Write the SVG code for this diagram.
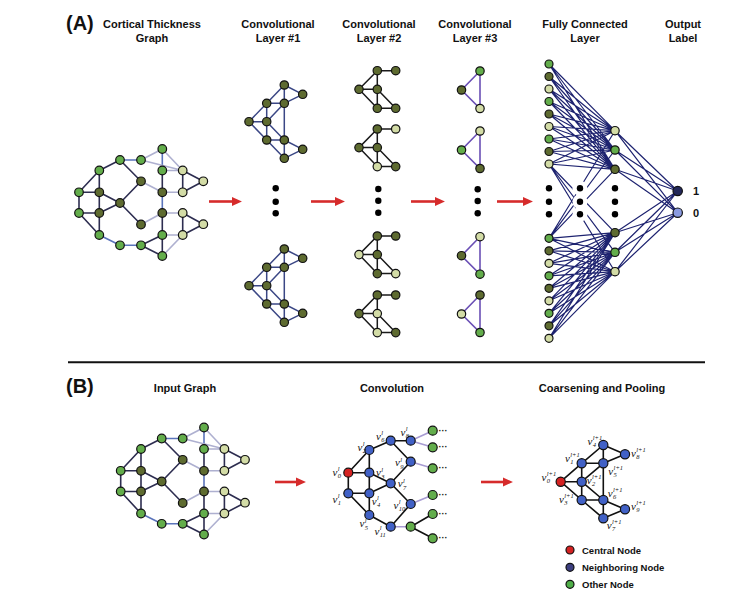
<svg xmlns="http://www.w3.org/2000/svg" xmlns:xlink="http://www.w3.org/1999/xlink" width="750" height="596" viewBox="0 0 750 596">
<style>
text{font-family:"Liberation Sans",Arial,sans-serif;fill:#111}
.h{font-size:11px;font-weight:bold;text-anchor:middle}
.big{font-size:20px;font-weight:bold}
circle{stroke:#111;stroke-width:1.2}
.g{fill:#63ad4b}.d{fill:#5e6b30}.l{fill:#d3dca6}
.b{fill:#4161c6}.r{fill:#d42222}
.dot{fill:#000;stroke:none}
.halo{fill:#fff;stroke:none}
.ed{stroke:#2d2d50;stroke-width:1.6;fill:none}
.eb{stroke:#5b74bb;stroke-width:1.6;fill:none}
.el{stroke:#aeb0d0;stroke-width:1.6;fill:none}
.c1{stroke:#3b4785;stroke-width:1.5;fill:none}
.c2{stroke:#1a1a1a;stroke-width:1.5;fill:none}
.c3{stroke:#6a4fb5;stroke-width:1.6;fill:none}
.fc{stroke:#1e2370;stroke-width:1.2;fill:none}
.bk{stroke:#111;stroke-width:1.6;fill:none}
.pu{stroke:#a79bd2;stroke-width:1.6;fill:none}
.arr{stroke:#d62b2b;stroke-width:2.6;marker-end:url(#ah)}
.v{font-family:"Liberation Serif","Times New Roman",serif;font-style:italic;font-size:11px}
.s{font-size:6.5px}
.leg{font-size:9.5px;font-weight:bold}
.ell{font-size:9px;font-weight:bold}
</style>
<defs>
<marker id="ah" viewBox="0 0 10 9" refX="6" refY="4.5" markerWidth="4" markerHeight="3.6" orient="auto"><path d="M0,0L10,4.5L0,9z" fill="#d62b2b"/></marker>
<path id="c2e" class="c2" d="M377.3,0L395.7,0M377.3,0L359,18.6M377.3,0L377.3,37.6M359,18.6L377.3,18.6M359,18.6L377.3,37.6M377.3,37.6L395.7,37.6M377.3,18.6L395.7,37.6"/>
<path id="c3e" class="c3" d="M480,0L461.5,19L480,37.5Z"/>
</defs>
<rect width="750" height="596" fill="#fff"/>

<!-- Headers A -->
<g id="headers-a">
<text class="big" x="66" y="30">(A)</text>
<text class="h" x="152" y="28">Cortical Thickness</text><text class="h" x="152" y="42">Graph</text>
<text class="h" x="278" y="28">Convolutional</text><text class="h" x="278" y="42">Layer #1</text>
<text class="h" x="379" y="28">Convolutional</text><text class="h" x="379" y="42">Layer #2</text>
<text class="h" x="475" y="28">Convolutional</text><text class="h" x="475" y="42">Layer #3</text>
<text class="h" x="585" y="28">Fully Connected</text><text class="h" x="585" y="42">Layer</text>
<text class="h" x="683" y="28">Output</text><text class="h" x="683" y="42">Label</text>
</g>

<!-- Cortical thickness graph -->
<g id="cortical-graph">
<g id="cortical-edges">
<path class="ed" d="M120,160L99.3,170.5M120,160L141,181.3M99.3,170.5L79,192.3M99.3,170.5L99.3,192.3M162.3,170.5L162.3,192.3M182.7,170.5L182.7,192.3M182.7,170.5L203.3,181.3M182.7,192.3L203.3,181.3M141,181.3L120,203M79,192.3L99.3,192.3M79,192.3L79,213M99.3,192.3L120,203M99.3,192.3L99.3,213M79,213L99.3,213M99.3,213L120,203M79,213L99.3,235M99.3,213L99.3,235M120,203L141,224.5M162.3,213L162.3,235M182.7,213L182.7,235M182.7,213L203.3,224.2M182.7,235L203.3,224.2M141,245.3L162.3,235M141,245.3L162.3,256M162.3,235L162.3,256"/>
<path class="eb" d="M120,160L141,160M162.3,149L162.3,170.5M162.3,192.3L162.3,213M99.3,235L120,245.3M120,245.3L141,245.3"/>
<path class="el" d="M141,160L162.3,149M141,160L182.7,170.5M162.3,149L182.7,170.5M162.3,170.5L182.7,170.5M141,181.3L162.3,192.3M162.3,192.3L182.7,192.3M162.3,213L182.7,213M162.3,213L141,224.5M162.3,235L182.7,235M162.3,256L182.7,235"/>
</g>
<g id="cortical-nodes">
<circle class="g" cx="162.3" cy="149" r="4.3"/>
<circle class="g" cx="120" cy="160" r="4.3"/>
<circle class="g" cx="141" cy="160" r="4.3"/>
<circle class="g" cx="99.3" cy="170.5" r="4.3"/>
<circle class="g" cx="162.3" cy="170.5" r="4.3"/>
<circle class="l" cx="182.7" cy="170.5" r="4.3"/>
<circle class="l" cx="203.3" cy="181.3" r="4.3"/>
<circle class="d" cx="141" cy="181.3" r="4.3"/>
<circle class="g" cx="79" cy="192.3" r="4.3"/>
<circle class="d" cx="99.3" cy="192.3" r="4.3"/>
<circle class="d" cx="162.3" cy="192.3" r="4.3"/>
<circle class="l" cx="182.7" cy="192.3" r="4.3"/>
<circle class="d" cx="120" cy="203" r="4.3"/>
<circle class="g" cx="79" cy="213" r="4.3"/>
<circle class="d" cx="99.3" cy="213" r="4.3"/>
<circle class="d" cx="162.3" cy="213" r="4.3"/>
<circle class="l" cx="182.7" cy="213" r="4.3"/>
<circle class="l" cx="203.3" cy="224.2" r="4.3"/>
<circle class="d" cx="141" cy="224.5" r="4.3"/>
<circle class="g" cx="99.3" cy="235" r="4.3"/>
<circle class="g" cx="162.3" cy="235" r="4.3"/>
<circle class="l" cx="182.7" cy="235" r="4.3"/>
<circle class="g" cx="120" cy="245.3" r="4.3"/>
<circle class="g" cx="141" cy="245.3" r="4.3"/>
<circle class="g" cx="162.3" cy="256" r="4.3"/>
</g>
</g>

<!-- Convolutional layer 1 -->
<g id="conv1-graph-top">
<path class="c1" d="M284.3,85L302.7,94.3M284.3,85L284.3,103.3M284.3,85L266.7,103.3M266.7,103.3L284.3,103.3M302.7,94.3L284.3,103.3M266.7,103.3L266.7,121.7M266.7,103.3L249,121.7M284.3,103.3L266.7,121.7M284.3,103.3L284.3,140M249,121.7L266.7,121.7M249,121.7L266.7,140M266.7,121.7L266.7,140M266.7,121.7L284.3,140M266.7,140L284.3,140M266.7,140L284.3,158.3M284.3,140L284.3,158.3M284.3,140L302.7,149.3M302.7,149.3L284.3,158.3"/>
<circle class="d" cx="284.3" cy="85" r="4.2"/>
<circle class="d" cx="302.7" cy="94.3" r="4.2"/>
<circle class="d" cx="266.7" cy="103.3" r="4.2"/>
<circle class="d" cx="284.3" cy="103.3" r="4.2"/>
<circle class="d" cx="249" cy="121.7" r="4.2"/>
<circle class="d" cx="266.7" cy="121.7" r="4.2"/>
<circle class="d" cx="266.7" cy="140" r="4.2"/>
<circle class="d" cx="284.3" cy="140" r="4.2"/>
<circle class="d" cx="302.7" cy="149.3" r="4.2"/>
<circle class="d" cx="284.3" cy="158.3" r="4.2"/>
</g>
<use id="conv1-graph-bottom" href="#conv1-graph-top" xlink:href="#conv1-graph-top" transform="translate(0,164)"/>
<g id="conv1-dots"><circle class="dot" cx="275.7" cy="188.3" r="3.2"/><circle class="dot" cx="275.7" cy="201.7" r="3.2"/><circle class="dot" cx="275.7" cy="213.3" r="3.2"/></g>

<!-- Convolutional layer 2 -->
<g id="conv2-graph1">
<use href="#c2e" xlink:href="#c2e" y="70.7"/>
<circle class="d" cx="377.3" cy="70.7" r="4.2"/><circle class="d" cx="395.7" cy="70.7" r="4.2"/>
<circle class="d" cx="359" cy="89.3" r="4.2"/><circle class="d" cx="377.3" cy="89.3" r="4.2"/>
<circle class="d" cx="377.3" cy="108.3" r="4.2"/><circle class="d" cx="395.7" cy="108.3" r="4.2"/>
</g>
<g id="conv2-graph2">
<use href="#c2e" xlink:href="#c2e" y="129"/>
<circle class="d" cx="377.3" cy="129" r="4.2"/><circle class="l" cx="395.7" cy="129" r="4.2"/>
<circle class="d" cx="359" cy="147.6" r="4.2"/><circle class="d" cx="377.3" cy="147.6" r="4.2"/>
<circle class="l" cx="377.3" cy="166.6" r="4.2"/><circle class="d" cx="395.7" cy="166.6" r="4.2"/>
</g>
<g id="conv2-graph3">
<use href="#c2e" xlink:href="#c2e" y="236"/>
<circle class="d" cx="377.3" cy="236" r="4.2"/><circle class="d" cx="395.7" cy="236" r="4.2"/>
<circle class="l" cx="359" cy="254.6" r="4.2"/><circle class="d" cx="377.3" cy="254.6" r="4.2"/>
<circle class="d" cx="377.3" cy="273.6" r="4.2"/><circle class="l" cx="395.7" cy="273.6" r="4.2"/>
</g>
<g id="conv2-graph4">
<use href="#c2e" xlink:href="#c2e" y="295"/>
<circle class="d" cx="377.3" cy="295" r="4.2"/><circle class="d" cx="395.7" cy="295" r="4.2"/>
<circle class="d" cx="359" cy="313.6" r="4.2"/><circle class="l" cx="377.3" cy="313.6" r="4.2"/>
<circle class="l" cx="377.3" cy="332.6" r="4.2"/><circle class="d" cx="395.7" cy="332.6" r="4.2"/>
</g>
<g id="conv2-dots"><circle class="dot" cx="378.3" cy="189" r="3.2"/><circle class="dot" cx="378.3" cy="200.7" r="3.2"/><circle class="dot" cx="378.3" cy="212.7" r="3.2"/></g>

<!-- Convolutional layer 3 -->
<g id="conv3-graph1"><use href="#c3e" xlink:href="#c3e" y="71"/>
<circle class="g" cx="480" cy="71" r="4.2"/><circle class="d" cx="461.5" cy="90" r="4.2"/><circle class="l" cx="480" cy="108.5" r="4.2"/></g>
<g id="conv3-graph2"><use href="#c3e" xlink:href="#c3e" y="131"/>
<circle class="l" cx="480" cy="131" r="4.2"/><circle class="g" cx="461.5" cy="150" r="4.2"/><circle class="d" cx="480" cy="168.5" r="4.2"/></g>
<g id="conv3-graph3"><use href="#c3e" xlink:href="#c3e" y="236.7"/>
<circle class="l" cx="480" cy="236.7" r="4.2"/><circle class="d" cx="461.5" cy="255.7" r="4.2"/><circle class="g" cx="480" cy="274.2" r="4.2"/></g>
<g id="conv3-graph4"><use href="#c3e" xlink:href="#c3e" y="295"/>
<circle class="d" cx="480" cy="295" r="4.2"/><circle class="l" cx="461.5" cy="314" r="4.2"/><circle class="g" cx="480" cy="332.5" r="4.2"/></g>
<g id="conv3-dots"><circle class="dot" cx="477.7" cy="189.3" r="3.2"/><circle class="dot" cx="477.7" cy="201" r="3.2"/><circle class="dot" cx="477.7" cy="213.3" r="3.2"/></g>

<!-- Fully connected layer -->
<g id="fc-connectors">
<path class="fc" d="M549,64L615,130.7M549,64L615,150M549,64L615,169.3M549,76.5L615,130.7M549,76.5L615,150M549,76.5L615,169.3M549,89L615,130.7M549,89L615,150M549,89L615,169.3M549,101.5L615,130.7M549,101.5L615,150M549,101.5L615,169.3M549,114L615,130.7M549,114L615,150M549,114L615,169.3M549,126.5L615,130.7M549,126.5L615,150M549,126.5L615,169.3M549,139L615,130.7M549,139L615,150M549,139L615,169.3M549,151.5L615,130.7M549,151.5L615,150M549,151.5L615,169.3M549,164L615,130.7M549,164L615,150M549,164L615,169.3"/>
<path class="fc" d="M549,238.3L615,232.7M549,238.3L615,252.3M549,238.3L615,271.7M549,250.8L615,232.7M549,250.8L615,252.3M549,250.8L615,271.7M549,263.3L615,232.7M549,263.3L615,252.3M549,263.3L615,271.7M549,275.8L615,232.7M549,275.8L615,252.3M549,275.8L615,271.7M549,288.3L615,232.7M549,288.3L615,252.3M549,288.3L615,271.7M549,300.8L615,232.7M549,300.8L615,252.3M549,300.8L615,271.7M549,313.3L615,232.7M549,313.3L615,252.3M549,313.3L615,271.7M549,325.8L615,232.7M549,325.8L615,252.3M549,325.8L615,271.7M549,338.3L615,232.7M549,338.3L615,252.3M549,338.3L615,271.7"/>
<path class="fc" d="M549,164L615,232.7M549,164L615,252.3M549,164L615,271.7M549,238.3L615,130.7M549,238.3L615,150M549,238.3L615,169.3"/>
<path class="fc" d="M615,130.7L677.7,191M615,130.7L677.7,212.7M615,150L677.7,191M615,150L677.7,212.7M615,169.3L677.7,191M615,169.3L677.7,212.7M615,232.7L677.7,191M615,232.7L677.7,212.7M615,252.3L677.7,191M615,252.3L677.7,212.7M615,271.7L677.7,191M615,271.7L677.7,212.7"/>
<circle class="halo" cx="580" cy="188.3" r="7.5"/><circle class="halo" cx="580" cy="201.7" r="7.5"/><circle class="halo" cx="580" cy="214.3" r="7.5"/>
</g>
<g id="fc-input-nodes">
<circle class="g" cx="549" cy="64" r="4"/><circle class="d" cx="549" cy="76.5" r="4"/><circle class="l" cx="549" cy="89" r="4"/>
<circle class="g" cx="549" cy="101.5" r="4"/><circle class="d" cx="549" cy="114" r="4"/><circle class="l" cx="549" cy="126.5" r="4"/>
<circle class="g" cx="549" cy="139" r="4"/><circle class="d" cx="549" cy="151.5" r="4"/><circle class="l" cx="549" cy="164" r="4"/>
<circle class="g" cx="549" cy="238.3" r="4"/><circle class="d" cx="549" cy="250.8" r="4"/><circle class="l" cx="549" cy="263.3" r="4"/>
<circle class="g" cx="549" cy="275.8" r="4"/><circle class="d" cx="549" cy="288.3" r="4"/><circle class="l" cx="549" cy="300.8" r="4"/>
<circle class="g" cx="549" cy="313.3" r="4"/><circle class="d" cx="549" cy="325.8" r="4"/><circle class="l" cx="549" cy="338.3" r="4"/>
</g>
<g id="fc-hidden-nodes">
<circle class="l" cx="615" cy="130.7" r="4.2"/><circle class="g" cx="615" cy="150" r="4.2"/><circle class="d" cx="615" cy="169.3" r="4.2"/>
<circle class="d" cx="615" cy="232.7" r="4.2"/><circle class="g" cx="615" cy="252.3" r="4.2"/><circle class="l" cx="615" cy="271.7" r="4.2"/>
</g>
<g id="fc-dots">
<circle class="dot" cx="549" cy="188.3" r="3.2"/><circle class="dot" cx="549" cy="201.7" r="3.2"/><circle class="dot" cx="549" cy="214.3" r="3.2"/>
<circle class="dot" cx="580" cy="188.3" r="3.2"/><circle class="dot" cx="580" cy="201.7" r="3.2"/><circle class="dot" cx="580" cy="214.3" r="3.2"/>
<circle class="dot" cx="615" cy="188.3" r="3.2"/><circle class="dot" cx="615" cy="201.7" r="3.2"/><circle class="dot" cx="615" cy="214.3" r="3.2"/>
</g>
<g id="output-nodes">
<circle cx="677.7" cy="191" r="4.7" fill="#23285a"/>
<circle cx="677.7" cy="212.7" r="4.7" fill="#8a9ae0"/>
<text x="693" y="195" font-size="11" font-weight="bold">1</text>
<text x="693" y="217" font-size="11" font-weight="bold">0</text>
</g>

<!-- Arrows -->
<g id="arrows">
<line class="arr" x1="209" y1="201.5" x2="237.8" y2="201.5"/>
<line class="arr" x1="311" y1="201.5" x2="340.8" y2="201.5"/>
<line class="arr" x1="411" y1="201.5" x2="440.8" y2="201.5"/>
<line class="arr" x1="497" y1="201.5" x2="528.8" y2="201.5"/>
<line class="arr" x1="275" y1="482" x2="301.8" y2="482"/>
<line class="arr" x1="481" y1="482" x2="508.8" y2="482"/>
</g>

<line id="separator" x1="68" y1="362.3" x2="705" y2="362.3" stroke="#111" stroke-width="2"/>

<!-- Section B -->
<g id="headers-b">
<text class="big" x="66" y="393">(B)</text>
<text class="h" x="185" y="392">Input Graph</text>
<text class="h" x="392" y="392">Convolution</text>
<text class="h" x="602" y="392">Coarsening and Pooling</text>
</g>

<use id="input-graph" href="#cortical-graph" xlink:href="#cortical-graph" transform="translate(41.7,278.5)"/>

<g id="convolution-graph">
<g id="conv-edges">
<path class="bk" d="M348.3,472.7L369.3,450M348.3,472.7L369.3,472.7M348.3,472.7L348.3,493.3M369.3,450L390.7,440.7M369.3,450L369.3,515M369.3,472.7L390.7,483.3M390.7,440.7L410.7,440.7M390.7,440.7L410.7,461.7M410.7,461.7L390.7,483.3M348.3,493.3L369.3,493.3M348.3,493.3L369.3,515M369.3,493.3L390.7,483.3M390.7,483.3L410.7,504M369.3,515L390.7,526.7M390.7,526.7L410.7,504M410.7,526.7L432.7,514M410.7,526.7L432.7,538.3"/>
<path class="pu" d="M410.7,440.7L432.7,430.7M410.7,440.7L432.7,447.3M410.7,461.7L432.7,468.3M410.7,504L432.7,495M390.7,526.7L410.7,526.7"/>
</g>
<g id="conv-nodes">
<circle class="r" cx="348.3" cy="472.7" r="4.5"/>
<circle class="b" cx="369.3" cy="450" r="4.5"/>
<circle class="b" cx="390.7" cy="440.7" r="4.5"/>
<circle class="b" cx="410.7" cy="440.7" r="4.5"/>
<circle class="b" cx="369.3" cy="472.7" r="4.5"/>
<circle class="b" cx="410.7" cy="461.7" r="4.5"/>
<circle class="b" cx="390.7" cy="483.3" r="4.5"/>
<circle class="b" cx="348.3" cy="493.3" r="4.5"/>
<circle class="b" cx="369.3" cy="493.3" r="4.5"/>
<circle class="b" cx="410.7" cy="504" r="4.5"/>
<circle class="b" cx="369.3" cy="515" r="4.5"/>
<circle class="b" cx="390.7" cy="526.7" r="4.5"/>
<circle class="g" cx="432.7" cy="430.7" r="4.5"/>
<circle class="g" cx="432.7" cy="447.3" r="4.5"/>
<circle class="g" cx="432.7" cy="468.3" r="4.5"/>
<circle class="g" cx="432.7" cy="495" r="4.5"/>
<circle class="g" cx="432.7" cy="514" r="4.5"/>
<circle class="g" cx="410.7" cy="526.7" r="4.5"/>
<circle class="g" cx="432.7" cy="538.3" r="4.5"/>
</g>
<g id="conv-ellipses">
<text class="ell" x="438.5" y="433.5">···</text>
<text class="ell" x="438.5" y="450">···</text>
<text class="ell" x="438.5" y="471">···</text>
<text class="ell" x="438.5" y="497.7">···</text>
<text class="ell" x="438.5" y="516.7">···</text>
<text class="ell" x="438.5" y="541">···</text>
</g>
<g id="conv-labels">
<text class="v"><tspan x="332.5" y="475.7">v</tspan><tspan class="s" x="337.8" y="471">l</tspan><tspan class="s" x="337.8" y="478">0</tspan></text>
<text class="v"><tspan x="332.5" y="503">v</tspan><tspan class="s" x="337.8" y="498.3">l</tspan><tspan class="s" x="337.8" y="505.3">1</tspan></text>
<text class="v"><tspan x="357.5" y="451">v</tspan><tspan class="s" x="362.8" y="446.3">l</tspan><tspan class="s" x="362.8" y="453.3">2</tspan></text>
<text class="v"><tspan x="376" y="476.3">v</tspan><tspan class="s" x="381.3" y="471.6">l</tspan><tspan class="s" x="381.3" y="478.6">3</tspan></text>
<text class="v"><tspan x="371.7" y="504.7">v</tspan><tspan class="s" x="377" y="500">l</tspan><tspan class="s" x="377" y="507">4</tspan></text>
<text class="v"><tspan x="359.5" y="527.3">v</tspan><tspan class="s" x="364.8" y="522.6">l</tspan><tspan class="s" x="364.8" y="529.6">5</tspan></text>
<text class="v"><tspan x="376" y="439.7">v</tspan><tspan class="s" x="381.3" y="435">l</tspan><tspan class="s" x="381.3" y="442">6</tspan></text>
<text class="v"><tspan x="397.7" y="487.3">v</tspan><tspan class="s" x="403" y="482.6">l</tspan><tspan class="s" x="403" y="489.6">7</tspan></text>
<text class="v"><tspan x="400.5" y="435.7">v</tspan><tspan class="s" x="405.8" y="431">l</tspan><tspan class="s" x="405.8" y="438">8</tspan></text>
<text class="v"><tspan x="395" y="466.3">v</tspan><tspan class="s" x="400.3" y="461.6">l</tspan><tspan class="s" x="400.3" y="468.6">9</tspan></text>
<text class="v"><tspan x="393.5" y="509">v</tspan><tspan class="s" x="398.8" y="504.3">l</tspan><tspan class="s" x="398.8" y="511.3">10</tspan></text>
<text class="v"><tspan x="374.5" y="534.7">v</tspan><tspan class="s" x="379.8" y="530">l</tspan><tspan class="s" x="379.8" y="537">11</tspan></text>
</g>
</g>

<g id="coarsened-graph">
<path class="bk" d="M603.3,445L625,454.3M603.3,445L581.7,463.3M603.3,445L603.3,518.3M581.7,463.3L603.3,463.3M603.3,463.3L625,454.3M581.7,463.3L560.7,481.7M581.7,463.3L581.7,500M603.3,463.3L581.7,481.7M560.7,481.7L581.7,481.7M560.7,481.7L581.7,500M581.7,481.7L603.3,500M581.7,500L603.3,500M603.3,500L625,509.3M581.7,500L603.3,518.3M603.3,518.3L625,509.3"/>
<circle class="b" cx="603.3" cy="445" r="4.6"/>
<circle class="b" cx="625" cy="454.3" r="4.6"/>
<circle class="b" cx="581.7" cy="463.3" r="4.6"/>
<circle class="b" cx="603.3" cy="463.3" r="4.6"/>
<circle class="r" cx="560.7" cy="481.7" r="4.6"/>
<circle class="b" cx="581.7" cy="481.7" r="4.6"/>
<circle class="b" cx="581.7" cy="500" r="4.6"/>
<circle class="b" cx="603.3" cy="500" r="4.6"/>
<circle class="b" cx="625" cy="509.3" r="4.6"/>
<circle class="b" cx="603.3" cy="518.3" r="4.6"/>
<g id="coarse-labels">
<text class="v"><tspan x="541.5" y="481">v</tspan><tspan class="s" x="546.8" y="476.3">l+1</tspan><tspan class="s" x="546.8" y="483.3">0</tspan></text>
<text class="v"><tspan x="565" y="462">v</tspan><tspan class="s" x="570.3" y="457.3">l+1</tspan><tspan class="s" x="570.3" y="464.3">1</tspan></text>
<text class="v"><tspan x="586.7" y="484">v</tspan><tspan class="s" x="592" y="479.3">l+1</tspan><tspan class="s" x="592" y="486.3">2</tspan></text>
<text class="v"><tspan x="559" y="503">v</tspan><tspan class="s" x="564.3" y="498.3">l+1</tspan><tspan class="s" x="564.3" y="505.3">3</tspan></text>
<text class="v"><tspan x="587.5" y="444.5">v</tspan><tspan class="s" x="592.8" y="439.8">l+1</tspan><tspan class="s" x="592.8" y="446.8">4</tspan></text>
<text class="v"><tspan x="608.3" y="475">v</tspan><tspan class="s" x="613.6" y="470.3">l+1</tspan><tspan class="s" x="613.6" y="477.3">5</tspan></text>
<text class="v"><tspan x="607.7" y="497">v</tspan><tspan class="s" x="613" y="492.3">l+1</tspan><tspan class="s" x="613" y="499.3">6</tspan></text>
<text class="v"><tspan x="606.7" y="529">v</tspan><tspan class="s" x="612" y="524.3">l+1</tspan><tspan class="s" x="612" y="531.3">7</tspan></text>
<text class="v"><tspan x="631" y="457">v</tspan><tspan class="s" x="636.3" y="452.3">l+1</tspan><tspan class="s" x="636.3" y="459.3">8</tspan></text>
<text class="v"><tspan x="631" y="510">v</tspan><tspan class="s" x="636.3" y="505.3">l+1</tspan><tspan class="s" x="636.3" y="512.3">9</tspan></text>
</g>
</g>

<g id="legend">
<circle cx="570" cy="550" r="4" fill="#d42222"/><text class="leg" x="582" y="553.5">Central Node</text>
<circle cx="570" cy="567.3" r="4" fill="#3d3f80"/><text class="leg" x="582" y="570.8">Neighboring Node</text>
<circle cx="570" cy="584.3" r="4" fill="#4fae48"/><text class="leg" x="582" y="587.8">Other Node</text>
</g>
</svg>
